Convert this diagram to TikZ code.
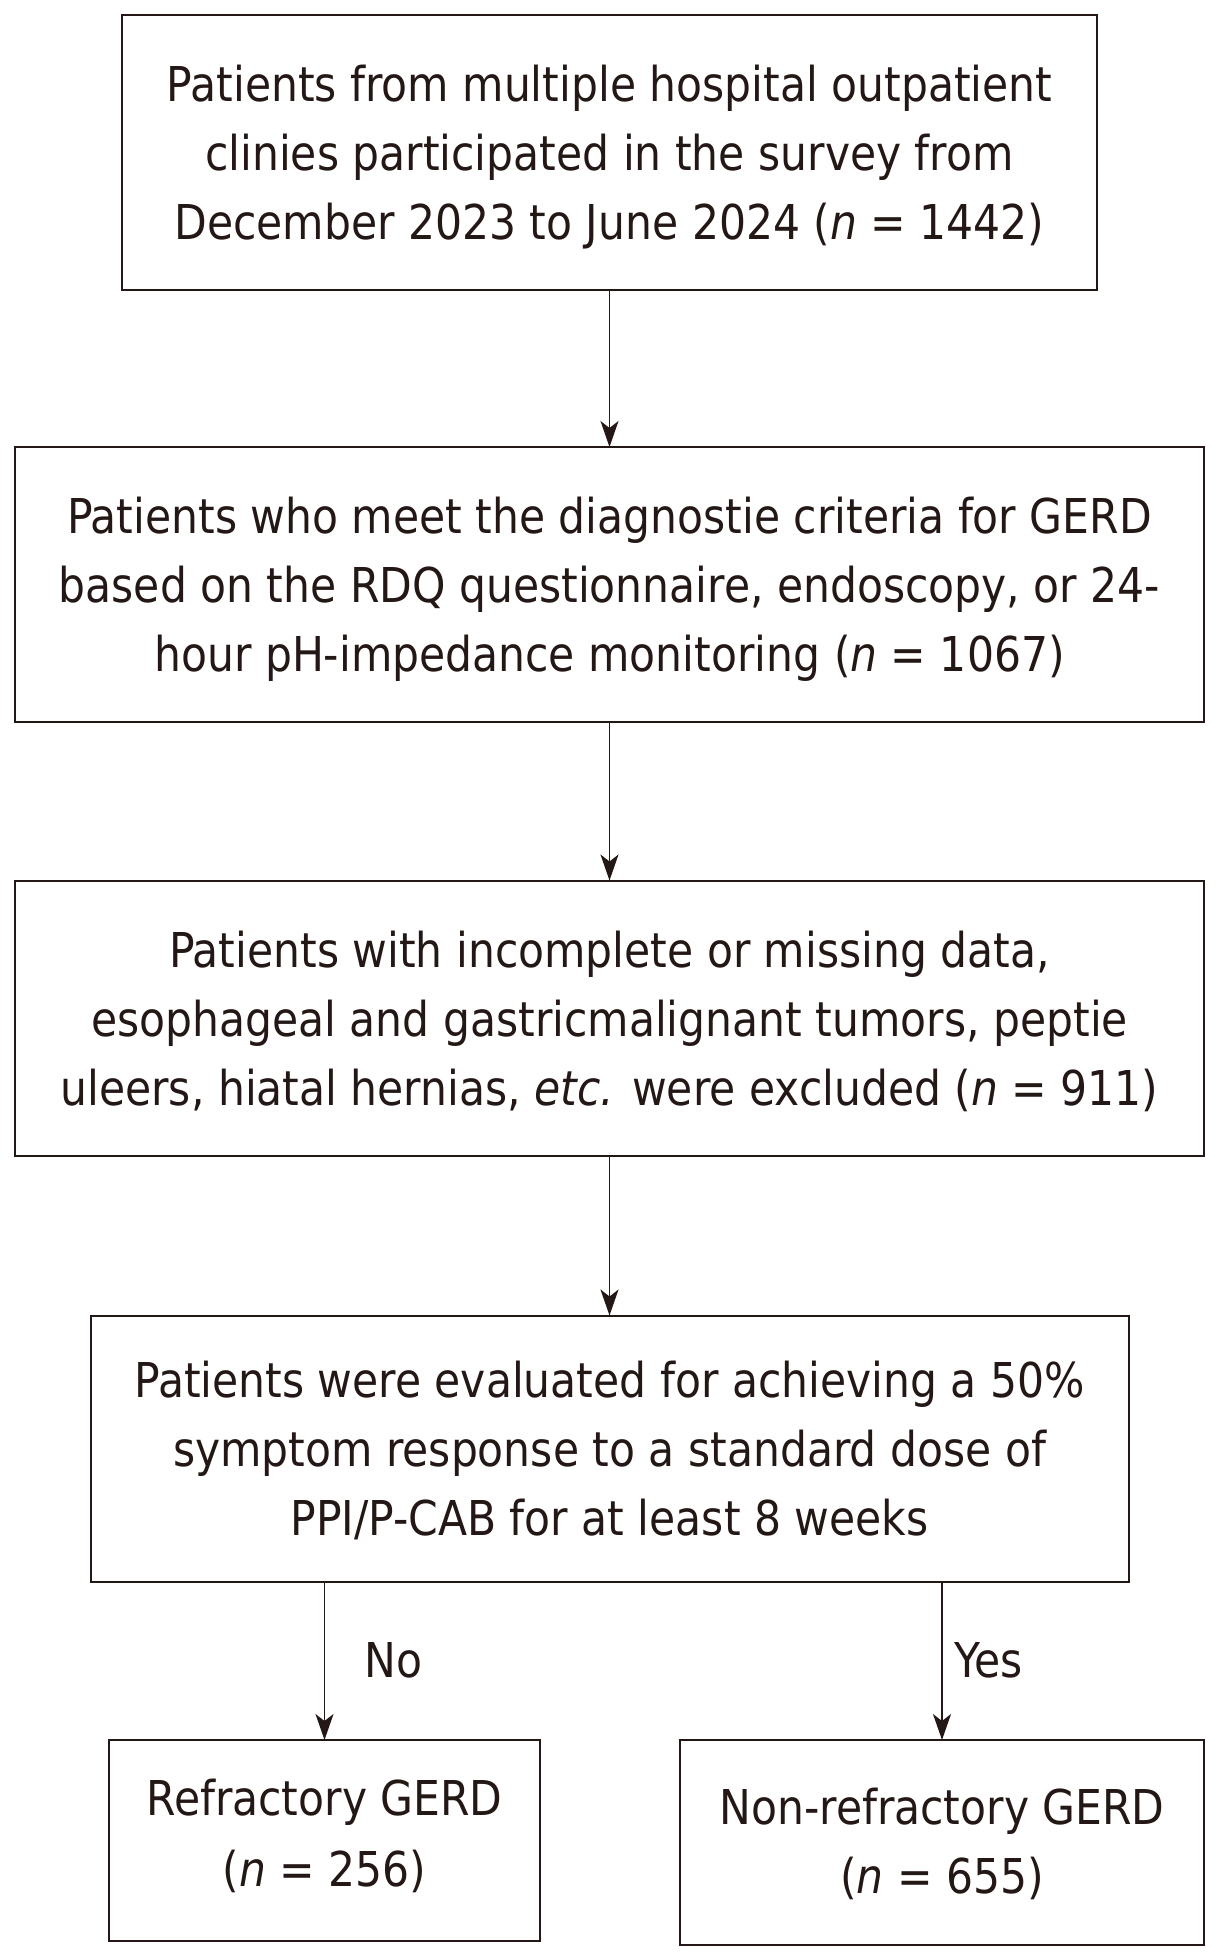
\documentclass[tikz,border=0pt]{standalone}
\usepackage{fontspec}
\setmainfont[FakeStretch=0.885]{DejaVu Sans}
\usepackage{xcolor}
\usetikzlibrary{arrows.meta,positioning}
\definecolor{ink}{RGB}{35,24,21}

\begin{document}
\begin{tikzpicture}[
  x=1pt, y=-1pt,
  node distance=157pt,
  box/.style={draw=ink, line width=2pt, inner sep=0pt, outer sep=0pt, align=center, text=ink,
    font=\fontsize{48}{69}\selectfont, minimum height=275pt, text depth=0pt},
  arr/.style={draw=ink, line width=1.6pt, -{Stealth[length=26pt,width=18pt,inset=7pt]}},
  lbl/.style={text=ink, font=\fontsize{48}{69}\selectfont}
]
  \useasboundingbox (0,0) rectangle (1222,1959);

  \node[box, minimum width=975pt] (survey) at (609.5,152.5)
    {Patients from multiple hospital outpatient\\clinies participated in the survey from\\December 2023 to June 2024 (\textit{n} = 1442)};
  \node[box, minimum width=1189pt, below=of survey] (gerd)
    {Patients who meet the diagnostie criteria for GERD\\based on the RDQ questionnaire, endoscopy, or 24-\\hour pH-impedance monitoring (\textit{n} = 1067)};
  \node[box, minimum width=1189pt, below=158.5pt of gerd] (excl)
    {Patients with incomplete or missing data,\\esophageal and gastricmalignant tumors, peptie\\uleers, hiatal hernias, \textit{etc.} were excluded (\textit{n} = 911)};
  \node[box, minimum width=1038pt, minimum height=266pt, below=160pt of excl] (eval)
    {Patients were evaluated for achieving a 50\%\\symptom response to a standard dose of\\PPI/P-CAB for at least 8 weeks};
  \node[box, minimum width=431pt, minimum height=201pt, text depth=15pt,
    font=\fontsize{48}{71}\selectfont] (refr) at (324.5,1840.5)
    {Refractory GERD\\(\textit{n} = 256)};
  \node[box, minimum width=524pt, minimum height=205pt, text depth=4pt] (nonr) at (942,1842.5)
    {Non-refractory GERD\\(\textit{n} = 655)};

  \draw[arr] (survey) -- (gerd);
  \draw[arr] (gerd) -- (excl);
  \draw[arr] (excl) -- (eval);
  \draw[arr] (eval.south -| refr.north) -- node[lbl, right=36pt] (no) {No} (refr);
  \draw[arr] (eval.south -| nonr.north) -- node[lbl, right=8pt] (yes) {Yes} (nonr);
\end{tikzpicture}
\end{document}
